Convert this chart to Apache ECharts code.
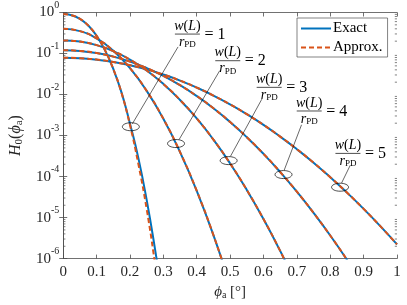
<!DOCTYPE html>
<html><head><meta charset="utf-8">
<script src="https://cdn.jsdelivr.net/npm/echarts@6/dist/echarts.min.js"></script>
<style>html,body{margin:0;padding:0;background:#fff}#c{width:407px;height:305px}</style>
</head><body><div id="c"></div>
<script>
// ---- data ----
const phiFine = [0,0.025,0.05,0.075,0.1,0.125,0.15,0.175,0.2,0.225,0.25,0.275,0.29];
const exact1  = [0.916,0.861,0.701,0.481,0.270,0.121,0.0420,0.01097,1.95e-3,2.86e-4,2.70e-5,1.71e-6,2.67e-7];
const approx1 = [0.916,0.861,0.701,0.481,0.270,0.121,0.0418,0.0107,1.80e-3,2.04e-4,1.62e-5,7.6e-7,1.0e-7];
const phiGrid = [0,0.05,0.1,0.15,0.2,0.25,0.3,0.35,0.4,0.45,0.5,0.55,0.6,0.65,0.7,0.75,0.8,0.85,0.9,0.95,1.0];
const exact2  = [0.403,0.352,0.233,0.1164,0.0438,0.01228,2.56e-3,3.96e-4,4.50e-5,3.74e-6,2.26e-7];
const approx2 = [0.403,0.352,0.233,0.1164,0.0438,0.01228,2.56e-3,3.96e-4,4.50e-5,3.74e-6,2.26e-7];
const exact3  = [0.209,0.1955,0.160,0.1143,0.0711,0.0385,0.0181,7.38e-3,2.61e-3,7.94e-4,2.09e-4,4.73e-5,9.20e-6,1.54e-6,2.20e-7];
const approx3 = [0.209,0.1955,0.160,0.1143,0.0711,0.0385,0.0181,7.38e-3,2.61e-3,7.94e-4,2.09e-4,4.73e-5,9.20e-6,1.54e-6,2.20e-7];
const exact4  = [0.1205,0.1158,0.1027,0.0841,0.0636,0.0443,0.0285,0.01687,9.20e-3,4.63e-3,2.14e-3,9.12e-4,3.58e-4,1.29e-4,4.28e-5,1.30e-5,3.65e-6,9.40e-7,2.22e-7];
const approx4 = [0.1205,0.1158,0.1027,0.0841,0.0636,0.0443,0.0285,0.01687,9.20e-3,4.63e-3,2.14e-3,9.12e-4,3.58e-4,1.29e-4,4.28e-5,1.30e-5,3.65e-6,9.40e-7,2.22e-7];
const exact5  = [0.0788,0.0769,0.0710,0.0623,0.0519,0.0410,0.0307,0.0219,0.01476,9.46e-3,5.75e-3,3.32e-3,1.82e-3,9.44e-4,4.65e-4,2.18e-4,9.66e-5,4.07e-5,1.63e-5,6.18e-6,2.22e-6];
const approx5 = [0.0788,0.0769,0.0710,0.0623,0.0519,0.0410,0.0307,0.0219,0.01476,9.46e-3,5.75e-3,3.32e-3,1.82e-3,9.44e-4,4.65e-4,2.18e-4,9.66e-5,4.07e-5,1.63e-5,6.18e-6,2.22e-6];
const seriesNames = ['Exact','Approx.'];

// annotation anchors (data coordinates)
const ellipseX = [0.2026,0.338,0.4956,0.660,0.8294];
const ellipseY = [1.64e-3,6.38e-4,2.45e-4,1.12e-4,5.5e-5];
const leaderX0 = [0.207,0.347,0.501,0.662,0.834];
const leaderY0 = [1.93e-3,7.96e-4,3.11e-4,1.43e-4,6.98e-5];
const leaderX1 = [0.344,0.469,0.595,0.714,0.860];
const leaderY1 = [0.145,0.0384,7.71e-3,1.83e-3,1.89e-4];
const labelX = [0.372,0.493,0.617,0.737,0.853];
const labelY = [0.298,0.0668,0.01496,3.97e-3,3.67e-4];
const labelN = ['1','2','3','4','5'];

const BLUE = '#0072BD', ORANGE = '#D95319', AX = '#4d4d4d', TXT = '#262626';
const FONT = '"Liberation Serif", "DejaVu Serif", serif';

const chart = echarts.init(document.getElementById('c'), null, {renderer:'canvas'});

function pairs(xs, ys){ return ys.map((v,i)=>[xs[i], v]); }
const exactSets = [[phiFine,exact1],[phiGrid,exact2],[phiGrid,exact3],[phiGrid,exact4],[phiGrid,exact5]];
const approxSets = [[phiFine,approx1],[phiGrid,approx2],[phiGrid,approx3],[phiGrid,approx4],[phiGrid,approx5]];

const series = [];
exactSets.forEach(s=>series.push({
  name: seriesNames[0], type:'line', data: pairs(s[0], s[1]), smooth: true, symbol:'none', showSymbol:false, clip:true,
  lineStyle:{color:BLUE, width:2}, itemStyle:{color:BLUE}, z:2, animation:false
}));
approxSets.forEach(s=>series.push({
  name: seriesNames[1], type:'line', data: pairs(s[0], s[1]), smooth: true, symbol:'none', showSymbol:false, clip:true,
  lineStyle:{color:ORANGE, width:2, type:[5,3]}, itemStyle:{color:ORANGE}, z:3, animation:false
}));

const tickLabelRich = {
  b:{fontFamily:FONT, fontSize:15, color:TXT},
  s:{fontFamily:FONT, fontSize:10, color:TXT, padding:[0,0,15,0]}
};

chart.setOption({
  animation:false,
  grid:{left:54, right:10, top:12, bottom:43},
  legend:{
    data: seriesNames, orient:'vertical', left:297, top:18,
    padding:[3,5,2,3], itemGap:4, itemWidth:30, itemHeight:12,
    itemStyle:{opacity:0},
    backgroundColor:'#fff', borderColor:AX, borderWidth:0.7,
    textStyle:{fontFamily:FONT, fontSize:15, color:'#000', padding:[0,0,0,-3]}
  },
  xAxis:[{
    type:'value', min:0, max:1, interval:0.1,
    axisLine:{show:true, lineStyle:{color:AX, width:0.8}},
    axisTick:{show:true, inside:true, length:4, lineStyle:{color:AX, width:0.8}},
    axisLabel:{fontFamily:FONT, fontSize:15, color:TXT, margin:6,
      formatter:v=>String(Math.round(v*10)/10)},
    splitLine:{show:false},
    name:'{i|ϕ}{sub|a} [°]', nameLocation:'middle', nameGap:22,
    nameTextStyle:{fontFamily:FONT, fontSize:15, color:TXT,
      rich:{i:{fontFamily:FONT, fontSize:15, fontStyle:'italic', color:TXT},
            sub:{fontFamily:FONT, fontSize:10, color:TXT, padding:[6,0,0,0]},
            n:{fontFamily:FONT, fontSize:15, color:TXT}}}
  },{
    type:'value', min:0, max:1, interval:0.1, position:'top',
    axisLine:{show:true, lineStyle:{color:AX, width:0.8}},
    axisTick:{show:true, inside:true, length:4, lineStyle:{color:AX, width:0.8}},
    axisLabel:{show:false}, splitLine:{show:false}
  }],
  yAxis:[{
    type:'log', logBase:10, min:1e-6, max:1, splitNumber:6,
    axisLine:{show:true, lineStyle:{color:AX, width:0.8}},
    axisTick:{show:true, inside:true, length:4, lineStyle:{color:AX, width:0.8}},
    axisLabel:{margin:4, formatter:v=>'{b|10}{s|'+Math.round(Math.log10(v))+'}', rich:tickLabelRich},
    splitLine:{show:false},
    name:'{i|H}{sub|0}{n|(}{i|ϕ}{sub|a}{n|)}', nameLocation:'middle', nameGap:33, nameRotate:90,
    nameTextStyle:{fontFamily:FONT, fontSize:15, color:TXT,
      rich:{i:{fontFamily:FONT, fontSize:16, fontStyle:'italic', color:TXT},
            n:{fontFamily:FONT, fontSize:16, color:TXT},
            sub:{fontFamily:FONT, fontSize:11, color:TXT, padding:[7,0,0,0]}}}
  },{
    type:'log', logBase:10, min:1e-6, max:1, splitNumber:6, position:'right',
    axisLine:{show:true, lineStyle:{color:AX, width:0.8}},
    axisTick:{show:true, inside:true, length:4, lineStyle:{color:AX, width:0.8}},
    axisLabel:{show:false}, splitLine:{show:false}
  }],
  series: series
});

function P(x,y){ return chart.convertToPixel({xAxisIndex:0, yAxisIndex:0}, [x,y]); }

const g = [];
// minor ticks on log axes (left and right)
const gridL = P(0,1)[0], gridR = P(1,1)[0];
for (let k=-6; k<0; k++) for (let m=2; m<=9; m++) {
  const y = P(0, m*Math.pow(10,k))[1];
  g.push({type:'line', shape:{x1:gridL, y1:y, x2:gridL+2.2, y2:y}, style:{stroke:AX, lineWidth:0.7}, silent:true});
  g.push({type:'line', shape:{x1:gridR, y1:y, x2:gridR-2.2, y2:y}, style:{stroke:AX, lineWidth:0.7}, silent:true});
}
// annotations
for (let i=0;i<5;i++){
  const e = P(ellipseX[i], ellipseY[i]);
  g.push({type:'ellipse', shape:{cx:e[0], cy:e[1], rx:8.5, ry:4}, style:{fill:'none', stroke:'#000', lineWidth:0.7}, z:10, silent:true});
  const a = P(leaderX0[i], leaderY0[i]), b = P(leaderX1[i], leaderY1[i]);
  g.push({type:'line', shape:{x1:a[0], y1:a[1], x2:b[0], y2:b[1]}, style:{stroke:'#000', lineWidth:0.6}, z:10, silent:true});
  const c = P(labelX[i], labelY[i]);
  g.push({type:'text', x:c[0], y:c[1]-1, z:10, silent:true, style:{
    text:'{i|w}{n|(}{i|L}{n|)}', align:'center', verticalAlign:'bottom',
    rich:{i:{fontFamily:FONT, fontSize:14, fontStyle:'italic', fill:'#000'}, n:{fontFamily:FONT, fontSize:14, fill:'#000'}}
  }});
  g.push({type:'line', shape:{x1:c[0]-12.5, y1:c[1], x2:c[0]+12.5, y2:c[1]}, style:{stroke:'#000', lineWidth:0.7}, z:10, silent:true});
  g.push({type:'text', x:c[0], y:c[1]+1, z:10, silent:true, style:{
    text:'{i|r}{s|PD}', align:'center', verticalAlign:'top',
    rich:{i:{fontFamily:FONT, fontSize:14, fontStyle:'italic', fill:'#000'}, s:{fontFamily:FONT, fontSize:9, fill:'#000', padding:[5,0,0,0]}}
  }});
  g.push({type:'text', x:c[0]+17, y:c[1]+0.5, z:10, silent:true, style:{
    text:'= '+labelN[i], align:'left', verticalAlign:'middle', fontFamily:FONT, fontSize:16, fill:'#000'
  }});
}
chart.setOption({graphic:g});
</script>
</body></html>
